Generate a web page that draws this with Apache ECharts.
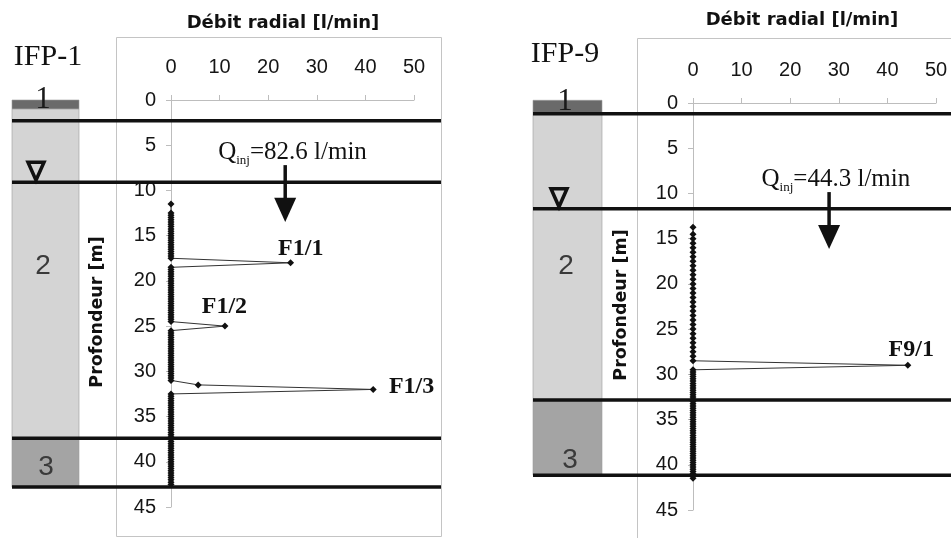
<!DOCTYPE html>
<html><head><meta charset="utf-8">
<script src="https://cdn.jsdelivr.net/npm/echarts@6/dist/echarts.min.js"></script>
<style>html,body{margin:0;padding:0;background:#fff}#c{width:951px;height:538px}</style>
</head><body><div id="c"></div>
<script>
// ---------- DATA ----------
const flowTicks = [0, 10, 20, 30, 40, 50];
const depthTicks = [0, 5, 10, 15, 20, 25, 30, 35, 40, 45];

// IFP-1 : depth [m] and radial flow [l/min]
const depth1 = [
  11.5,
  12.5,12.75,13,13.25,13.5,13.75,14,14.25,14.5,14.75,15,15.25,15.5,15.75,16,16.25,16.5,16.75,17,17.25,17.5,
  18,
  18.5,18.75,19,19.25,19.5,19.75,20,20.25,20.5,20.75,21,21.25,21.5,21.75,22,22.25,22.5,22.75,23,23.25,23.5,23.75,24,24.25,24.5,
  25,
  25.5,25.75,26,26.25,26.5,26.75,27,27.25,27.5,27.75,28,28.25,28.5,28.75,29,29.25,29.5,29.75,30,30.25,30.5,30.75,31,
  31.5,32,
  32.5,32.75,33,33.25,33.5,33.75,34,34.25,34.5,34.75,35,35.25,35.5,35.75,36,36.25,36.5,36.75,37,37.25,37.5,37.75,38,38.25,38.5,38.75,39,39.25,39.5,39.75,40,40.25,40.5,40.75,41,41.25,41.5,41.75,42,42.25,42.5
];
const flow1 = [
  0,
  0,0,0,0,0,0,0,0,0,0, 0,0,0,0,0,0,0,0,0,0, 0,
  24.6,
  0,0,0,0,0,0,0,0,0,0, 0,0,0,0,0,0,0,0,0,0, 0,0,0,0,0,
  11.1,
  0,0,0,0,0,0,0,0,0,0, 0,0,0,0,0,0,0,0,0,0, 0,0,0,
  5.6,41.6,
  0,0,0,0,0,0,0,0,0,0, 0,0,0,0,0,0,0,0,0,0, 0,0,0,0,0,0,0,0,0,0, 0,0,0,0,0,0,0,0,0,0, 0
];

// IFP-9
const depth9 = [
  13.75,14.5,15,15.5,16,16.5,17,17.5,18,18.5,19,19.5,20,20.5,21,21.5,22,22.5,23,23.5,24,24.5,25,25.5,26,26.5,27,27.5,28,28.5,
  29,
  29.5,29.75,30,30.25,30.5,30.75,31,31.25,31.5,31.75,32,32.25,32.5,32.75,33,33.25,33.5,33.75,34,34.25,34.5,34.75,35,35.25,35.5,35.75,36,36.25,36.5,36.75,37,37.25,37.5,37.75,38,38.25,38.5,38.75,39,39.25,39.5,39.75,40,40.25,40.5,40.75,41,41.25,41.5
];
const flow9 = [
  0,0,0,0,0,0,0,0,0,0, 0,0,0,0,0,0,0,0,0,0, 0,0,0,0,0,0,0,0,0,0,
  44.2,
  0,0,0,0,0,0,0,0,0,0, 0,0,0,0,0,0,0,0,0,0, 0,0,0,0,0,0,0,0,0,0, 0,0,0,0,0,0,0,0,0,0, 0,0,0,0,0,0,0,0,0
];

// geology (depth in m)
const layerNames = ['1', '2', '3'];
const layerTop1 = [0, 1.0, 37.4];
const layerBottom1 = [1.0, 37.4, 42.8];
const layerLabelDepth1 = [0.0, 18.4, 40.6];
const boundaries1 = [2.3, 9.1, 37.4, 42.8];
const waterTable1 = 9.1;

const layerTop9 = [-0.3, 1.2, 32.85];
const layerBottom9 = [1.2, 32.85, 41.15];
const layerLabelDepth9 = [-0.1, 18.0, 39.5];
const boundaries9 = [1.2, 11.7, 32.85, 41.15];
const waterTable9 = 11.7;

// annotations [flow, depth]
const wells = ['IFP-1', 'IFP-9'];
const injText = ['=82.6 l/min', '=44.3 l/min'];
const injPos1 = [25.0, 5.85];
const injPos9 = [29.4, 8.5];
const arrow1 = [23.5, 7.2, 10.8, 13.5];   // flow, top, head start, tip
const arrow9 = [28.0, 9.85, 13.5, 16.15];
const peakLabels1 = ['F1/1', 'F1/2', 'F1/3'];
const peakLabelPos1 = [[26.7, 16.4], [11.0, 22.9], [49.5, 31.7]];
const peakLabels9 = ['F9/1'];
const peakLabelPos9 = [[44.9, 27.3]];

// ---------- LAYOUT ----------
const chart = echarts.init(document.getElementById('c'));
const sans = 'Liberation Sans, Arial, sans-serif';
const serif = 'Liberation Serif, Times New Roman, serif';
const gothic = 'DejaVu Sans, sans-serif';

function xAxis(i) {
  return {
    gridIndex: i, type: 'value', min: 0, max: 50, interval: 10, position: 'top',
    axisLine: { show: true, onZero: false, lineStyle: { color: '#bdbdbd', width: 1 } },
    axisTick: { show: true, length: 5, lineStyle: { color: '#bdbdbd' } },
    axisLabel: { fontSize: 20, color: '#151515', margin: 23, fontFamily: sans,
      formatter: v => flowTicks.includes(v) ? String(v) : '' },
    splitLine: { show: false }
  };
}
function yAxis(i) {
  return {
    gridIndex: i, type: 'value', min: 0, max: 45, interval: 5, inverse: true,
    axisLine: { show: true, onZero: false, lineStyle: { color: '#bdbdbd', width: 1 } },
    axisTick: { show: true, length: 5, lineStyle: { color: '#bdbdbd' } },
    axisLabel: { fontSize: 20, color: '#151515', margin: 15, fontFamily: sans,
      formatter: v => depthTicks.includes(v) ? String(v) : '' },
    splitLine: { show: false }
  };
}
function series(i, depth, flow) {
  return {
    type: 'line', xAxisIndex: i, yAxisIndex: i,
    data: depth.map((d, k) => [flow[k], d]),
    symbol: 'diamond', symbolSize: 7, showSymbol: true,
    itemStyle: { color: '#111' },
    lineStyle: { color: '#333', width: 1 },
    z: 5, animation: false
  };
}

chart.setOption({
  animation: false,
  backgroundColor: '#fff',
  grid: [
    { left: 171, top: 100, width: 243, height: 407 },
    { left: 693, top: 103, width: 243, height: 407 }
  ],
  xAxis: [xAxis(0), xAxis(1)],
  yAxis: [yAxis(0), yAxis(1)],
  series: [series(0, depth1, flow1), series(1, depth9, flow9)]
});

const panels = [
  { gi: 0, strip: [12, 79], line: [12, 441], box: [116, 37, 325, 499],
    well: [48, 57], title: [283, 23], yname: [97, 312],
    top: layerTop1, bottom: layerBottom1, lab: layerLabelDepth1, labX: [43, 43, 46],
    bounds: boundaries1, wt: waterTable1, triX: 36,
    inj: injPos1, arrow: arrow1, peaks: peakLabels1, peakPos: peakLabelPos1 },
  { gi: 1, strip: [533, 602], line: [533, 951], box: [637, 38, 330, 500],
    well: [565, 54], title: [802, 20], yname: [621, 305],
    top: layerTop9, bottom: layerBottom9, lab: layerLabelDepth9, labX: [565, 566, 570],
    bounds: boundaries9, wt: waterTable9, triX: 559,
    inj: injPos9, arrow: arrow9, peaks: peakLabels9, peakPos: peakLabelPos9 }
];
const fills = ['#6a6a6a', '#d4d4d4', '#a4a4a4'];

const g = [];
panels.forEach((p, idx) => {
  const px = (f, d) => chart.convertToPixel({ gridIndex: p.gi }, [f, d]);
  const py = d => px(0, d)[1];
  // plot frame
  g.push({ type: 'rect', shape: { x: p.box[0] + 0.5, y: p.box[1] + 0.5, width: p.box[2], height: p.box[3] },
    style: { fill: 'none', stroke: '#c4c4c4', lineWidth: 1 }, z: 0 });
  // strip layers
  for (let k = 0; k < 3; k++) {
    const y0 = py(p.top[k]), y1 = py(p.bottom[k]);
    g.push({ type: 'rect', shape: { x: p.strip[0], y: y0, width: p.strip[1] - p.strip[0], height: y1 - y0 },
      style: { fill: fills[k], stroke: '#9a9a9a', lineWidth: 0.6 }, z: 1 });
    g.push({ type: 'text', x: p.labX[k], y: py(p.lab[k]),
      style: { text: layerNames[k], fontFamily: k === 0 ? serif : sans, fontSize: k === 0 ? 31 : 28,
        fill: k === 0 ? '#1a1a1a' : '#3a3a3a', align: 'center', verticalAlign: 'middle' }, z: 12 });
  }
  // boundaries
  p.bounds.forEach(d => {
    const y = py(d);
    g.push({ type: 'line', shape: { x1: p.line[0], y1: y, x2: p.line[1], y2: y },
      style: { stroke: '#111', lineWidth: 3.5 }, z: 10 });
  });
  // water table triangle
  const yw = py(p.wt) - 2;
  g.push({ type: 'polygon', shape: { points: [[p.triX - 8, yw - 18], [p.triX + 8, yw - 18], [p.triX, yw]] },
    style: { fill: 'none', stroke: '#111', lineWidth: 3.5, lineJoin: 'miter' }, z: 11 });
  // well name
  g.push({ type: 'text', x: p.well[0], y: p.well[1],
    style: { text: wells[idx], fontFamily: serif, fontSize: 30, fill: '#111', align: 'center', verticalAlign: 'middle' }, z: 12 });
  // axis titles
  g.push({ type: 'text', x: p.title[0], y: p.title[1],
    style: { text: 'Débit radial [l/min]', fontFamily: gothic, fontWeight: 'bold', fontSize: 18, fill: '#111',
      align: 'center', verticalAlign: 'middle' }, z: 12 });
  g.push({ type: 'text', x: p.yname[0], y: p.yname[1], rotation: Math.PI / 2,
    style: { text: 'Profondeur [m]', fontFamily: gothic, fontWeight: 'bold', fontSize: 17.5, fill: '#111',
      align: 'center', verticalAlign: 'middle' }, z: 12 });
  // injection text
  const ip = px(p.inj[0], p.inj[1]);
  g.push({ type: 'text', x: ip[0], y: ip[1],
    style: { text: '{q|Q}{s|inj}{t|' + injText[idx] + '}', align: 'center', verticalAlign: 'middle',
      rich: {
        q: { fontFamily: serif, fontSize: 25, fill: '#111', lineHeight: 28 },
        s: { fontFamily: serif, fontSize: 13, fill: '#111', lineHeight: 12, verticalAlign: 'bottom' },
        t: { fontFamily: serif, fontSize: 25, fill: '#111', lineHeight: 28 }
      } }, z: 12 });
  // arrow
  const a0 = px(p.arrow[0], p.arrow[1]), a1 = px(p.arrow[0], p.arrow[2]), a2 = px(p.arrow[0], p.arrow[3]);
  g.push({ type: 'line', shape: { x1: a0[0], y1: a0[1], x2: a1[0], y2: a1[1] + 2 },
    style: { stroke: '#111', lineWidth: 3.5 }, z: 12 });
  g.push({ type: 'polygon', shape: { points: [[a1[0] - 11, a1[1]], [a1[0] + 11, a1[1]], [a2[0], a2[1]]] },
    style: { fill: '#111' }, z: 12 });
  // peak labels
  p.peaks.forEach((t, k) => {
    const q = px(p.peakPos[k][0], p.peakPos[k][1]);
    g.push({ type: 'text', x: q[0], y: q[1],
      style: { text: t, fontFamily: serif, fontWeight: 'bold', fontSize: 24, fill: '#111',
        align: 'center', verticalAlign: 'middle' }, z: 12 });
  });
});
chart.setOption({ graphic: g });
</script>
</body></html>
